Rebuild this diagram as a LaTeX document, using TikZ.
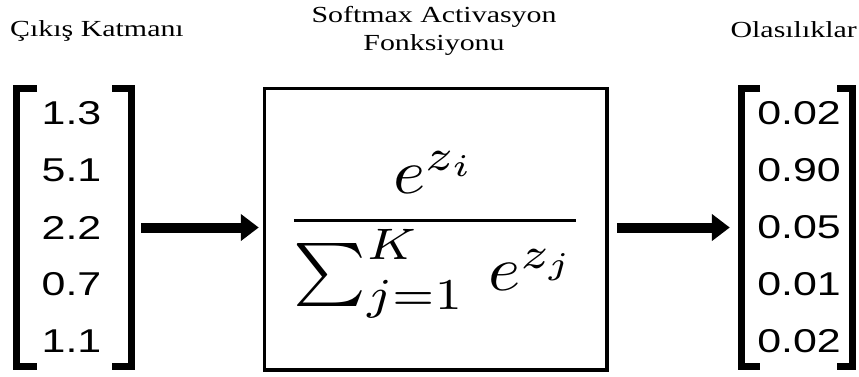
\documentclass[tikz,border=0pt]{standalone}
\usepackage{fontspec}
\usepackage{amsmath}
\usetikzlibrary{arrows.meta}
\setmainfont{Liberation Serif}
\newfontfamily\numfont{Liberation Sans}
\tikzset{
  title/.style={inner sep=0pt, anchor=base, font=\fontsize{23}{26}\selectfont},
  num/.style={inner sep=0pt, font=\numfont\fontsize{33}{36}\selectfont},
  brack/.style={line width=7pt, line join=miter, line cap=butt},
  flow/.style={line width=10pt, -{Triangle[length=18pt,width=26pt]}},
  fbox/.style={draw, line width=3.5pt, minimum width=342.5pt, minimum height=281.5pt, inner sep=0pt}
}
\newcommand{\xs}[1]{\scalebox{1.3}[1]{#1}}
\begin{document}
\begin{tikzpicture}[x=1pt,y=-1pt]
\useasboundingbox[fill=white] (0,0) rectangle (859,376);
% titles
\node[title, anchor=base west] (t1) at (10,36) {\xs{Çıkış Katmanı}};
\node[title] (t2a) at (434,22) {\xs{Softmax Activasyon}};
\node[title] (t2b) at (434,50) {\xs{Fonksiyonu}};
\node[title, anchor=base east] (t3) at (857,37) {\xs{Olasılıklar}};
% left vector
\node[minimum width=122pt, minimum height=285pt, inner sep=0pt] (L) at (74,227.5) {};
\foreach \v [count=\i from 0] in {1.3,5.1,2.2,0.7,1.1}
  \node[num] (l\i) at (71.5,113.5+57*\i) {\xs{\v}};
\draw[brack] (37,88.5) -- (16.5,88.5) -- (16.5,366.5) -- (37,366.5);
\draw[brack] (112,88.5) -- (131.5,88.5) -- (131.5,366.5) -- (112,366.5);
% box
\node[fbox] (B) at (435.75,229.25) {};
\node[inner sep=0pt, anchor=base] (F) at (435,236)
  {\scalebox{6.9}[6.3]{$\dfrac{e^{z_i}}{\textstyle\sum_{j=1}^{K}\, e^{z_j}}$}};
% right vector
\node[minimum width=122pt, minimum height=285pt, inner sep=0pt] (R) at (797,227.5) {};
\foreach \v [count=\i from 0] in {0.02,0.90,0.05,0.01,0.02}
  \node[num] (r\i) at (799,113.5+57*\i) {\xs{\v}};
\draw[brack] (760,88.5) -- (741.5,88.5) -- (741.5,366.5) -- (760,366.5);
\draw[brack] (837,88.5) -- (852.5,88.5) -- (852.5,366.5) -- (837,366.5);
% arrows
\draw[flow] (L.east |- l2) ++(6,0) -- ([xshift=-4pt]B.west |- l2);
\draw[flow] ([xshift=8pt]B.east |- r2) -- ([xshift=-6pt]R.west |- r2);
\end{tikzpicture}
\end{document}
